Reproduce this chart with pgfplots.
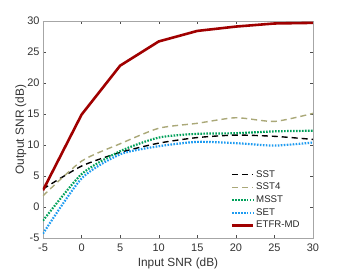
\documentclass[border=0pt]{standalone}
\usepackage{fontspec}
\setmainfont{Liberation Sans}
\usepackage{pgfplots}
\pgfplotsset{compat=1.18}
\definecolor{etfr}{RGB}{160,0,0}
\definecolor{sstf}{RGB}{170,168,120}
\definecolor{msst}{RGB}{0,160,90}
\definecolor{setc}{RGB}{30,155,240}
\begin{document}
\begin{tikzpicture}
\begin{axis}[
  scale only axis, width=270bp, height=217bp,
  xmin=-5, xmax=30, ymin=-5, ymax=30,
  xtick={-5,0,...,30}, ytick={-5,0,...,30},
  tick align=inside, tick pos=both,
  axis line style={gray!70}, tick style={black!70},
  major tick length=3bp,
  /pgf/number format/assume math mode=true,
  ticklabel style={font=\fontsize{11}{12}\selectfont, text=black!80},
  xticklabel style={yshift=-2bp},
  label style={font=\fontsize{11.9}{13}\selectfont, text=black!80},
  xlabel={Input SNR (dB)}, ylabel={Output SNR (dB)},
  xlabel style={yshift=0bp}, ylabel style={yshift=-6bp},
  legend style={at={(0.97,0.02)}, anchor=south east, draw=none, fill=none,
    font=\fontsize{9.7}{10}\selectfont, row sep=0.5bp, text=black!85},
  legend cell align=left,
  legend image code/.code={\draw[#1] (0bp,0bp) -- (21bp,0bp);},
]
\addplot[black, line width=1.4pt, dash pattern=on 6pt off 4pt, smooth, tension=0.4] coordinates {(-5,2.9)(0,6.6)(5,8.8)(10,10.3)(15,11.2)(20,11.6)(25,11.4)(30,10.9)};
\addlegendentry{SST}
\addplot[sstf, line width=1.4pt, dash pattern=on 6pt off 4pt, smooth, tension=0.4] coordinates {(-5,1.8)(0,7.4)(5,10.2)(10,12.7)(15,13.5)(20,14.4)(25,13.8)(30,15.1)};
\addlegendentry{SST4}
\addplot[msst, line width=2.2pt, dash pattern=on 1.6pt off 1.4pt, smooth, tension=0.4] coordinates {(-5,-2.2)(0,5.3)(5,9.0)(10,11.2)(15,11.8)(20,11.9)(25,12.2)(30,12.3)};
\addlegendentry{MSST}
\addplot[setc, line width=2.2pt, dash pattern=on 1.6pt off 1.4pt, smooth, tension=0.4] coordinates {(-5,-4.3)(0,4.6)(5,8.5)(10,9.8)(15,10.5)(20,10.3)(25,9.9)(30,10.4)};
\addlegendentry{SET}
\addplot[etfr, line width=2.6pt] coordinates {(-5,2.7)(0,14.9)(5,22.8)(10,26.7)(15,28.4)(20,29.1)(25,29.6)(30,29.7)};
\addlegendentry{ETFR-MD}
\end{axis}
\path[use as bounding box] ([xshift=-43bp,yshift=-32bp]current axis.south west) rectangle ([xshift=33bp,yshift=21bp]current axis.north east);
\end{tikzpicture}
\end{document}
